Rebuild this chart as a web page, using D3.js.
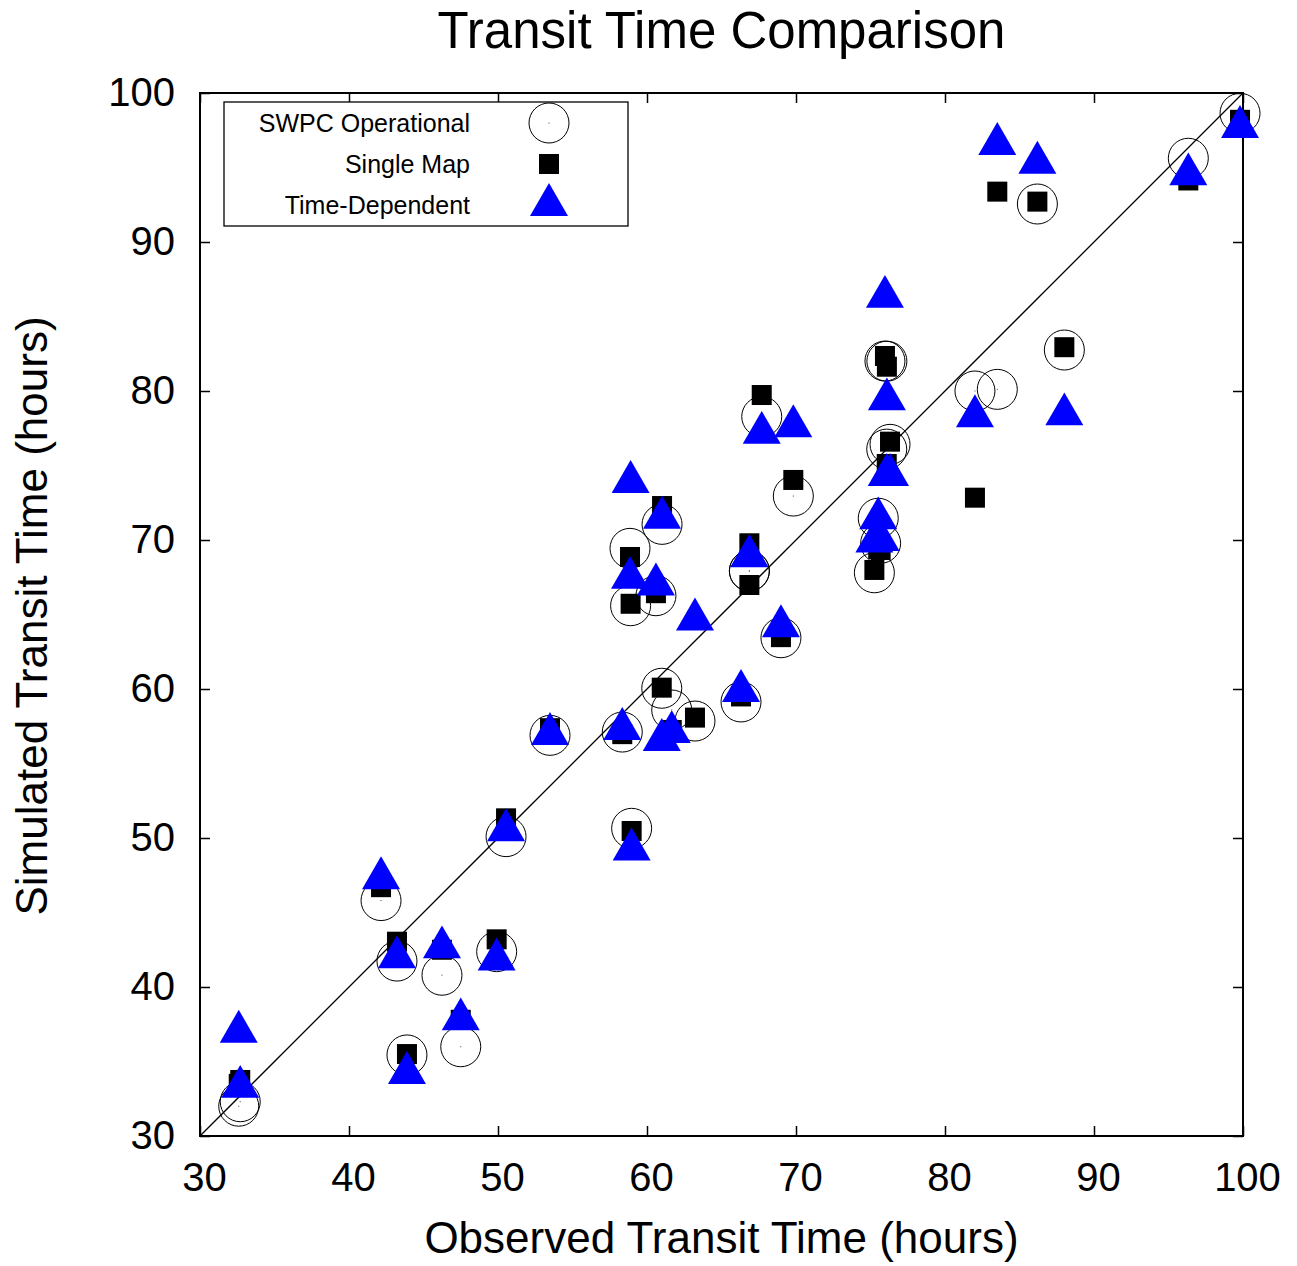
<!DOCTYPE html>
<html><head><meta charset="utf-8">
<script src="https://cdn.jsdelivr.net/npm/d3@7"></script>
<style>
html,body{margin:0;padding:0;background:#fff;}
svg{display:block;font-family:"Liberation Sans",Arial,Helvetica,sans-serif;}
</style></head>
<body>
<svg id="chart" width="1297" height="1266"></svg>
<script>
// Observed transit time (hours), one entry per event
const observed = [32.7, 32.6, 42.15, 43.22, 43.89, 46.24, 47.5, 49.91, 50.54, 53.49,
  58.34, 58.97, 58.86, 58.9, 60.6, 61.01, 60.99, 61.66, 63.22, 66.31,
  66.87, 66.87, 68.99, 69.82, 67.7, 75.26, 75.52, 75.68, 75.97, 76.1,
  76.31, 76.09, 82.01, 83.51, 86.2, 88.01, 96.33, 99.8];
// SWPC Operational simulated transit time
const swpc = [32.3, 32.0, 45.8, 41.74, 35.44, 40.79, 35.99, 42.37, 50.09, 56.89,
  57.11, 50.65, 69.44, 65.59, 66.26, 71.05, 60.05, 58.59, 57.85, 59.13,
  67.92, 67.92, 63.44, 72.95, 78.28, 67.8, 71.46, 69.78, 82.01, 82.0,
  76.42, 76.1, 80.0, 80.11, 92.55, 82.75, 95.62, 98.64];
// Single Map simulated transit time
const singleMap = [33.76, 33.5, 46.7, 43.04, 35.5, 42.5, 37.8, 43.2, 51.32, 57.37,
  56.97, 50.47, 68.86, 65.72, 66.43, 72.28, 60.09, 57.25, 58.08, 59.5,
  69.78, 66.98, 63.48, 74.03, 79.73, 67.99, 69.4, 69.33, 82.35, 81.63,
  76.6, 75.1, 72.84, 93.38, 92.71, 82.94, 94.13, 98.2];
// Time-Dependent simulated transit time
const timeDep = [33.3, 37.0, 47.3, 42.0, 34.23, 42.66, 37.83, 41.85, 50.52, 56.98,
  57.32, 49.23, 67.46, 73.89, 67.01, 71.49, 56.58, 57.11, 64.67, 59.87,
  68.93, 68.9, 64.21, 77.64, 77.19, 69.9, 71.45, 70.0, 86.32, 79.44,
  74.36, 74.36, 78.31, 96.58, 95.32, 78.43, 94.54, 97.72];
const ticks = [30, 40, 50, 60, 70, 80, 90, 100];
const seriesNames = ["SWPC Operational", "Single Map", "Time-Dependent"];

const svg = d3.select("#chart");
const x = d3.scaleLinear().domain([30, 100]).range([200, 1243]);
const y = d3.scaleLinear().domain([30, 100]).range([1136, 93]);

// title
svg.append("text").attr("x", 721.5).attr("y", 48).attr("text-anchor", "middle")
  .attr("font-size", 51).text("Transit Time Comparison");

// axes
const fmt = d3.format("d");
const gB = svg.append("g").attr("transform", "translate(0,1136)")
  .call(d3.axisBottom(x).tickValues(ticks).tickFormat(fmt).tickSizeInner(-10).tickSizeOuter(0).tickPadding(27));
const gL = svg.append("g").attr("transform", "translate(200,0)")
  .call(d3.axisLeft(y).tickValues(ticks).tickFormat(fmt).tickSizeInner(-10).tickSizeOuter(0).tickPadding(25));
const gT = svg.append("g").attr("transform", "translate(0,93)")
  .call(d3.axisTop(x).tickValues(ticks).tickFormat("").tickSizeInner(-10).tickSizeOuter(0));
const gR = svg.append("g").attr("transform", "translate(1243,0)")
  .call(d3.axisRight(y).tickValues(ticks).tickFormat("").tickSizeInner(-10).tickSizeOuter(0));
[gB, gL, gT, gR].forEach(g => {
  g.select(".domain").remove();
  g.selectAll(".tick line").attr("stroke", "#000").attr("stroke-width", 1.5);
  g.selectAll(".tick text").attr("font-size", 40).attr("fill", "#000")
    .attr("font-family", "Liberation Sans, Arial, sans-serif");
});
gB.selectAll(".tick text").attr("dx", 4);

// frame
svg.append("rect").attr("x", x(30)).attr("y", y(100))
  .attr("width", x(100) - x(30)).attr("height", y(30) - y(100))
  .attr("fill", "none").attr("stroke", "#000").attr("stroke-width", 2);

// axis titles
svg.append("text").attr("x", 721.5).attr("y", 1253).attr("text-anchor", "middle")
  .attr("font-size", 44).text("Observed Transit Time (hours)");
svg.append("text").attr("transform", "translate(47,616) rotate(-90)")
  .attr("text-anchor", "middle").attr("font-size", 44).text("Simulated Transit Time (hours)");

// diagonal y = x
svg.append("line").attr("x1", x(30)).attr("y1", y(30)).attr("x2", x(100)).attr("y2", y(100))
  .attr("stroke", "#000").attr("stroke-width", 1.3);

const triSize = 625;
const tri = d3.symbol().type(d3.symbolTriangle).size(triSize);

// SWPC circles
const idx = d3.range(observed.length);
svg.append("g").selectAll("circle").data(idx).join("circle")
  .attr("cx", i => x(observed[i])).attr("cy", i => y(swpc[i])).attr("r", 20)
  .attr("fill", "none").attr("stroke", "#000").attr("stroke-width", 1);
svg.append("g").selectAll("rect").data(idx).join("rect")
  .attr("x", i => x(observed[i]) - 0.5).attr("y", i => y(swpc[i]) - 0.5)
  .attr("width", 1).attr("height", 1).attr("fill", "#444");
// Single Map squares
svg.append("g").selectAll("rect").data(idx).join("rect")
  .attr("x", i => x(observed[i]) - 10).attr("y", i => y(singleMap[i]) - 10)
  .attr("width", 20).attr("height", 20).attr("fill", "#000");
// Time-dependent triangles
svg.append("g").selectAll("path").data(idx).join("path")
  .attr("transform", i => `translate(${x(observed[i])},${y(timeDep[i])})`)
  .attr("d", tri).attr("fill", "#0000ff");

// legend
const leg = svg.append("g");
leg.append("rect").attr("x", 224).attr("y", 102).attr("width", 404).attr("height", 124)
  .attr("fill", "#fff").attr("stroke", "#000").attr("stroke-width", 1.3);
const rowsY = [123, 164, 205];
seriesNames.forEach((n, k) => {
  leg.append("text").attr("x", 470).attr("y", rowsY[k]).attr("dy", "0.35em")
    .attr("text-anchor", "end").attr("font-size", 25).text(n);
});
leg.append("circle").attr("cx", 549).attr("cy", rowsY[0]).attr("r", 20)
  .attr("fill", "none").attr("stroke", "#000").attr("stroke-width", 1);
leg.append("rect").attr("x", 548.5).attr("y", rowsY[0] - 0.5).attr("width", 1).attr("height", 1).attr("fill", "#444");
leg.append("rect").attr("x", 539).attr("y", rowsY[1] - 10).attr("width", 20).attr("height", 20).attr("fill", "#000");
leg.append("path").attr("transform", `translate(549,${rowsY[2]})`).attr("d", tri).attr("fill", "#0000ff");
</script>
</body></html>
